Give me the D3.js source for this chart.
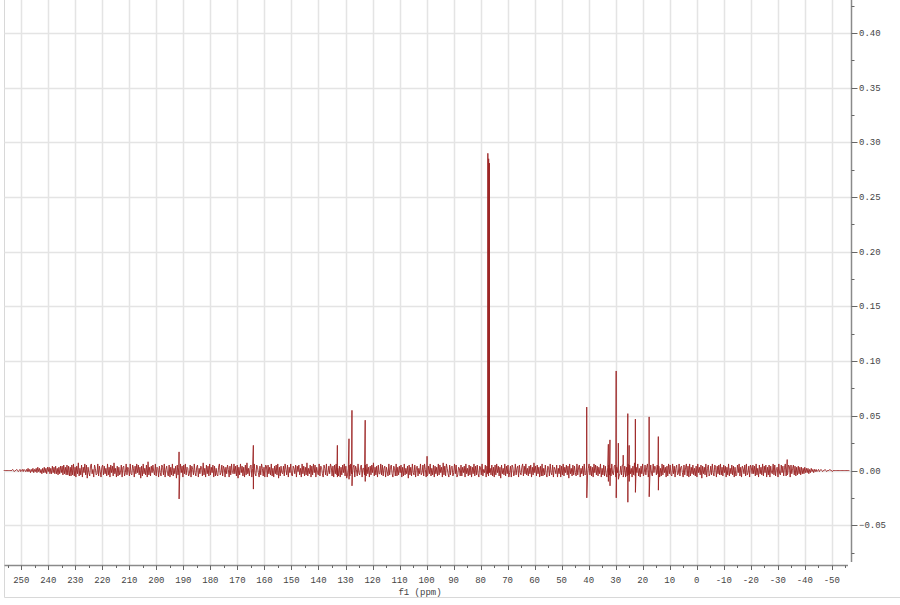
<!DOCTYPE html>
<html>
<head>
<meta charset="utf-8">
<script src="https://cdn.jsdelivr.net/npm/d3@7"></script>
<style>
body { margin: 0; background: #fff; }
text { font-family: "Liberation Mono", "DejaVu Sans Mono", monospace; font-size: 9px; fill: #444; }
</style>
</head>
<body>
<script>
// Width and height of chart
var width = 900;
var height = 605;

// ppm range covered by the recorded noise
var noiseStart = 256.5;
var noiseEnd = -56.5;

// baseline noise, in thousandths of intensity, read left to right
var noise = [
  // flat start
  0,0,0,0,0,0,0,0,0,0,0,1,0,-1,0,0,1,0,-1,0,1,-1,0,1,
  // rising edge
  -1,1,0,-1,1,-1,2,-1,1,-2,1,-1,2,-2,1,-1,2,-2,3,-1,2,-2,1,-3,2,-2,3,-2,2,-3,
  3,-1,3,-3,2,-3,4,-2,3,-3,4,-3,2,-4,3,-3,4,-2,4,-4,5,-3,3,-4,5,-4,4,-5,3,-5,
  // main band
  5,-4,6,-5,3,-6,4,-3,7,-5,2,-4,5,-6,3,-2,6,-4,5,-7,
  3,-2,-5,4,6,-3,1,-6,5,2,-4,-3,6,-5,4,-1,-6,3,5,-4,
  4,-3,2,-5,6,-4,3,-6,5,-2,4,-5,7,-3,2,-6,4,-5,3,-4,
  -2,5,-6,3,4,-5,-2,6,-4,3,1,-5,6,-3,-4,5,2,-6,4,-3,
  6,-2,5,-4,3,-7,4,-5,6,-3,2,-4,5,-6,8,-4,3,-5,4,-2,
  5,-1,-4,6,-5,3,2,-6,4,-2,-5,5,3,-4,6,-6,1,4,-3,-5,
  5,-6,3,-4,6,-5,2,-3,4,-7,5,-4,3,-5,6,-2,4,-6,5,-3,
  6,-4,3,2,-5,-3,5,-6,4,1,-4,6,-2,-5,3,5,-6,2,-3,4,
  3,-5,7,-4,2,-6,5,-3,4,-5,6,-4,3,-2,5,-6,4,-5,2,-4,
  -5,3,6,-4,-2,5,-5,4,2,-6,3,-3,5,1,-6,4,-4,6,-2,-3,
  6,-3,4,-5,5,-7,3,-4,6,-2,4,-5,3,-6,5,-4,7,-3,2,-5,
  4,5,-6,2,-4,6,-3,-5,5,3,-2,-6,4,-4,6,2,-5,3,-6,5,
  4,-6,5,-3,3,-4,6,-5,2,-6,4,-3,5,-4,6,-7,3,-5,4,-2,
  -3,4,-5,6,1,-4,5,-6,3,-2,6,-4,-5,4,2,-3,5,-6,4,-1,
  5,-4,2,-6,6,-3,4,-5,3,-4,7,-5,2,-3,5,-6,4,-4,6,-2,
  5,-6,3,-2,-4,6,-5,4,3,-3,-6,5,2,-4,6,-5,-2,4,-3,6,
  3,-5,4,-6,5,-3,6,-4,2,-5,4,-6,3,-4,5,-2,6,-5,4,-7,
  -4,2,5,-5,6,-3,-4,3,5,-6,4,1,-5,6,-2,-4,3,5,-6,2,
  2,-4,5,-5,6,-3,3,-6,4,-4,5,-2,7,-5,3,-4,4,-6,5,-3,
  -3,6,-4,5,-5,2,4,-6,3,-1,-5,6,-4,3,5,-3,-6,4,2,-5,
  6,-5,3,-4,4,-2,5,-6,3,-5,6,-4,2,-3,4,-7,5,-4,3,-5,
  6,-2,-4,5,-6,3,4,-5,2,-3,6,-4,-2,5,-5,6,1,-6,3,-4,
  4,-3,6,-5,2,-4,5,-6,4,-3,3,-5,6,-4,5,-2,3,-6,7,-4,
  4,-5,6,2,-3,-6,5,-4,3,4,-5,-2,6,-3,5,-6,-4,3,2,-5,
  5,-5,3,-2,4,-6,6,-3,2,-5,5,-4,4,-6,3,-3,6,-5,4,-4,
  5,-3,-6,4,3,-4,6,-5,1,-2,5,-6,4,-3,-5,6,2,-4,5,-5,
  3,-6,5,-4,6,-2,4,-5,3,-7,5,-3,2,-4,6,-5,4,-3,5,-6,
  -2,4,-6,5,3,-5,-3,6,-4,2,4,-6,5,-2,-4,3,6,-5,4,-3,
  6,-4,2,-5,4,-3,5,-6,3,-4,7,-2,4,-5,5,-3,3,-6,4,-5,
  6,-5,2,-4,5,-3,-6,4,3,-5,6,-2,-4,5,-6,3,1,-3,5,-6,
  2,-3,5,-6,4,-4,6,-5,3,-2,5,-4,4,-7,6,-3,2,-5,5,-4,
  4,-2,-5,6,-4,3,5,-6,2,-3,4,-5,6,-4,-3,5,-5,2,6,-4,
  4,-5,3,-6,6,-2,5,-4,4,-5,3,-3,6,-6,2,-4,5,-5,4,-3,
  -6,3,5,-4,2,-5,6,-3,-4,4,5,-6,3,-2,6,-5,-3,4,-4,5,
  5,-2,4,-6,3,-5,6,-4,5,-3,2,-6,4,-4,7,-5,3,-2,6,-5,
  2,-6,4,-3,6,-5,-2,5,-4,3,6,-6,1,-4,5,-3,-5,6,-2,4,
  3,-4,5,-3,4,-6,2,-5,6,-4,5,-2,3,-6,4,-5,6,-3,5,-4,
  -5,6,-3,4,-6,2,5,-4,-3,6,-5,3,4,-2,-6,5,-4,3,6,-5,
  4,-6,6,-5,3,-3,5,-4,2,-5,4,-6,6,-2,3,-4,5,-7,4,-3,
  3,-4,6,-6,2,5,-5,-3,4,-4,6,-2,-5,5,3,-6,4,-3,5,-4,
  6,-4,3,-5,5,-2,4,-6,3,-4,6,-5,2,-3,5,-4,4,-6,3,-5,
  -4,5,-2,6,-5,3,-6,4,2,-3,5,-5,6,-4,-2,4,-6,5,3,-3,
  5,-3,4,-5,6,-4,2,-6,5,-3,3,-4,6,-5,4,-2,5,-6,3,-4,
  5,-6,4,-2,-3,6,-4,5,-5,2,3,-6,6,-3,-4,5,-2,4,-5,3,
  6,-5,4,-3,5,4,-6,5,-3,2,
  // falling edge
  5,-4,4,-5,3,-4,4,-3,3,-4,3,-3,2,-3,3,-2,2,-2,2,-3,1,-2,2,-1,1,-2,1,-1,1,-1,0,1,-1,0,
  // flat end
  1,0,-1,0,0,1,0,-1,0,0,0,1,0,0,-1,0,0,0,0,0,0,0,0,0,0,0,0,0,0,0,0,0,0,0,0,0
];

// signals: position (ppm), top and bottom of each line
var peakPpm    = [191.6, 164.1, 133.0, 128.7, 127.6, 122.7, 99.8, 77.3, 77.0, 76.7, 40.7, 32.7, 32.1, 29.8, 29.0, 27.2, 25.5, 25.0, 22.7, 17.6, 14.2, -33.5];
var peakTop    = [0.017, 0.023, 0.023, 0.029, 0.055, 0.046, 0.013, 0.290, 0.285, 0.281, 0.058, 0.024, 0.028, 0.091, 0.025, 0.014, 0.052, 0.023, 0.047, 0.049, 0.031, 0.010];
var peakBottom = [-0.026, -0.017, -0.006, -0.008, -0.014, -0.010, -0.005, -0.002, -0.002, -0.002, -0.025, -0.010, -0.014, -0.025, -0.008, -0.006, -0.029, -0.010, -0.020, -0.024, -0.018, -0.004];

// axis ticks
var xTicks = d3.range(250, -51, -10);
var xMinor = d3.range(255, -56, -5);
var yTicks = [-0.05, 0, 0.05, 0.10, 0.15, 0.20, 0.25, 0.30, 0.35, 0.40];
var yMinor = d3.range(-0.075, 0.43, 0.025);

// scales
var x = d3.scaleLinear().domain([250, -50]).range([21.3, 831.8]);
var y = d3.scaleLinear().domain([0, 0.4]).range([470.5, 33]);

var plotLeft = 4.5, axisX = 851.5, axisY = 565.5;

var svg = d3.select("body")
  .append("svg")
  .attr("width", width)
  .attr("height", height);

// outer frame (left and bottom)
svg.append("line").attr("x1", plotLeft).attr("x2", plotLeft).attr("y1", 0).attr("y2", 597.5)
  .style("stroke", "#d8d8d8");
svg.append("line").attr("x1", plotLeft).attr("x2", width).attr("y1", 597.5).attr("y2", 597.5)
  .style("stroke", "#d8d8d8");

// grid
svg.append("g").selectAll("line")
  .data(xTicks)
  .enter()
  .append("line")
  .attr("x1", function(d) { return Math.round(x(d)) + 0.5; })
  .attr("x2", function(d) { return Math.round(x(d)) + 0.5; })
  .attr("y1", 0)
  .attr("y2", axisY)
  .style("stroke", "#e4e4e4")
  .style("stroke-width", 1.5);

svg.append("g").selectAll("line")
  .data(yTicks)
  .enter()
  .append("line")
  .attr("x1", plotLeft)
  .attr("x2", axisX)
  .attr("y1", function(d) { return Math.round(y(d)) + 0.5; })
  .attr("y2", function(d) { return Math.round(y(d)) + 0.5; })
  .style("stroke", "#e4e4e4")
  .style("stroke-width", 1.5);

// build the trace: noise samples plus the signal lines
var step = (noiseStart - noiseEnd) / (noise.length - 1);
var pts = noise.map(function(v, i) { return [noiseStart - i * step, v / 1000]; });
peakPpm.forEach(function(p, i) {
  pts.push([p + 0.01, peakTop[i]]);
  pts.push([p - 0.01, peakBottom[i]]);
});
pts.sort(function(a, b) { return b[0] - a[0]; });

var line = d3.line()
  .x(function(d) { return x(d[0]); })
  .y(function(d) { return y(d[1]); });

svg.append("path")
  .datum(pts)
  .attr("d", line)
  .style("fill", "none")
  .style("stroke", "#9b2323")
  .style("stroke-width", 0.9);

// bottom axis
svg.append("line").attr("x1", plotLeft).attr("x2", 848).attr("y1", axisY).attr("y2", axisY)
  .style("stroke", "#8a8a8a").style("stroke-width", 1.5);

svg.append("g").selectAll("line")
  .data(xMinor)
  .enter()
  .append("line")
  .attr("x1", function(d) { return Math.round(x(d)) + 0.5; })
  .attr("x2", function(d) { return Math.round(x(d)) + 0.5; })
  .attr("y1", axisY)
  .attr("y2", function(d) { return d % 10 === 0 ? axisY + 4.5 : axisY + 2.5; })
  .style("stroke", "#666");

svg.append("g").selectAll("text")
  .data(xTicks)
  .enter()
  .append("text")
  .attr("x", function(d) { return x(d); })
  .attr("y", 583)
  .attr("text-anchor", "middle")
  .text(function(d) { return d; });

svg.append("text")
  .attr("x", 420)
  .attr("y", 595)
  .attr("text-anchor", "middle")
  .text("f1 (ppm)");

// right axis
svg.append("line").attr("x1", axisX).attr("x2", axisX).attr("y1", 0).attr("y2", 562)
  .style("stroke", "#8a8a8a").style("stroke-width", 1.5);

svg.append("g").selectAll("line")
  .data(yMinor)
  .enter()
  .append("line")
  .attr("x1", axisX)
  .attr("x2", function(d) { return Math.abs(Math.round(d * 1000) % 50) === 0 ? axisX + 6 : axisX + 3; })
  .attr("y1", function(d) { return Math.round(y(d)) + 0.5; })
  .attr("y2", function(d) { return Math.round(y(d)) + 0.5; })
  .style("stroke", "#666");

svg.append("g").selectAll("text")
  .data(yTicks)
  .enter()
  .append("text")
  .attr("x", 859)
  .attr("y", function(d) { return y(d) + 3; })
  .text(function(d) { return d3.format(".2f")(d); });
</script>
</body>
</html>
